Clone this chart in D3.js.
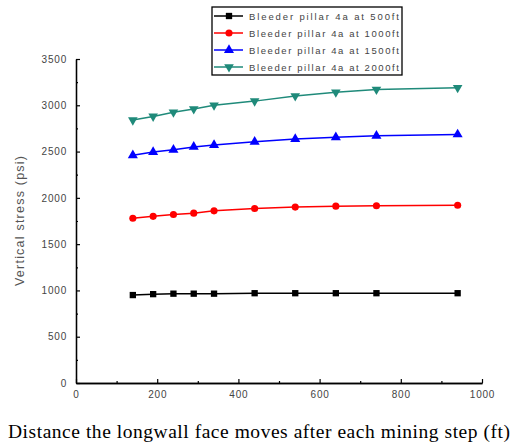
<!DOCTYPE html>
<html><head><meta charset="utf-8">
<script src="https://cdn.jsdelivr.net/npm/d3@7"></script>
<style>body{margin:0;background:#fff}</style>
</head><body>
<svg id="c" width="521" height="444"></svg>
<script>
const xValues = [140,190,240,290,340,440,540,640,740,940];
const s500  = [950,960,965,965,965,970,970,970,970,970];
const s1000 = [1780,1800,1820,1835,1860,1885,1900,1910,1915,1920];
const s1500 = [2460,2495,2520,2550,2570,2605,2635,2655,2670,2685];
const s2000 = [2840,2880,2925,2960,3000,3045,3100,3140,3170,3190];
const seriesNames = ["Bleeder pillar 4a at 500ft","Bleeder pillar 4a at 1000ft","Bleeder pillar 4a at 1500ft","Bleeder pillar 4a at 2000ft"];
const xTicks = [0,200,400,600,800,1000];
const yTicks = [0,500,1000,1500,2000,2500,3000,3500];
const xTitle = "Distance the longwall face moves after each mining step (ft)";
const yTitle = "Vertical stress (psi)";

const colors = ["#000000","#ff0000","#0000ff","#1f8a7a"];
const shapes = [d3.symbolSquare, d3.symbolCircle, d3.symbolTriangle, "tri-down"];
const allSeries = [s500,s1000,s1500,s2000];

const svg = d3.select("#c");
const x = d3.scaleLinear().domain([0,1000]).range([76,482]);
const y = d3.scaleLinear().domain([0,3500]).range([383,59]);

// axes
const gx = svg.append("g").attr("transform","translate(0,383)");
gx.call(d3.axisBottom(x).tickValues(xTicks).tickFormat(d3.format("d")).tickSizeInner(-4).tickSizeOuter(0).tickPadding(8));
const gxm = svg.append("g").attr("transform","translate(0,383)");
gxm.call(d3.axisBottom(x).tickValues(d3.range(100,1000,200)).tickSizeInner(-2).tickSizeOuter(0).tickFormat(""));
const gy = svg.append("g").attr("transform","translate(76,0)");
gy.call(d3.axisLeft(y).tickValues(yTicks).tickFormat(d3.format("d")).tickSizeInner(-4).tickSizeOuter(0).tickPadding(9));
const gym = svg.append("g").attr("transform","translate(76,0)");
gym.call(d3.axisLeft(y).tickValues(d3.range(250,3500,500)).tickSizeInner(-2).tickSizeOuter(0).tickFormat(""));
svg.selectAll(".domain").attr("stroke","#000").attr("stroke-width",1.3);
svg.selectAll(".tick line").attr("stroke","#000").attr("stroke-width",1.2);
svg.selectAll(".tick text").attr("font-family","Arial, 'Liberation Sans', sans-serif").attr("font-size",10).attr("letter-spacing",0.8).attr("fill","#444");

// title texts
svg.append("text").attr("x",8).attr("y",438).attr("textLength",502).attr("lengthAdjust","spacing")
  .attr("font-family","'Liberation Serif', 'Times New Roman', serif").attr("font-size",19.5).attr("fill","#000").text(xTitle);
svg.append("text").attr("transform","translate(24,221) rotate(-90)").attr("text-anchor","middle")
  .attr("textLength",130).attr("lengthAdjust","spacing")
  .attr("font-family","Arial, 'Liberation Sans', sans-serif").attr("font-size",12.5).attr("fill","#555").text(yTitle);

function drawSym(g, i, cx, cy, size){
  const c = colors[i];
  if (shapes[i] === "tri-down") {
    g.append("path").attr("d", d3.symbol().type(d3.symbolTriangle).size(size)())
      .attr("transform",`translate(${cx},${cy}) rotate(180)`).attr("fill",c);
  } else {
    g.append("path").attr("d", d3.symbol().type(shapes[i]).size(size)())
      .attr("transform",`translate(${cx},${cy})`).attr("fill",c);
  }
}

const line = d3.line().x(d=>x(d[0])).y(d=>y(d[1]));
allSeries.forEach((s,i)=>{
  const pts = xValues.map((xv,j)=>[xv,s[j]]);
  svg.append("path").attr("d",line(pts)).attr("fill","none").attr("stroke",colors[i]).attr("stroke-width",1.5);
  const g = svg.append("g");
  pts.forEach(p=>drawSym(g,i,x(p[0]),y(p[1]), i===2?44:40));
});

// legend
const lg = svg.append("g");
lg.append("rect").attr("x",212).attr("y",7).attr("width",190).attr("height",68)
  .attr("fill","#fff").attr("stroke","#000").attr("stroke-width",1.3);
seriesNames.forEach((n,i)=>{
  const yy = 16 + i*17;
  lg.append("line").attr("x1",214).attr("x2",243).attr("y1",yy).attr("y2",yy).attr("stroke",colors[i]).attr("stroke-width",1.5);
  drawSym(lg,i,229,yy, i===2?44:40);
  lg.append("text").attr("x",249).attr("y",yy+3.5).attr("textLength",150).attr("lengthAdjust","spacing")
    .attr("font-family","Arial, 'Liberation Sans', sans-serif")
    .attr("font-size",9.5).attr("fill","#444").text(n);
});
</script>
</body></html>
